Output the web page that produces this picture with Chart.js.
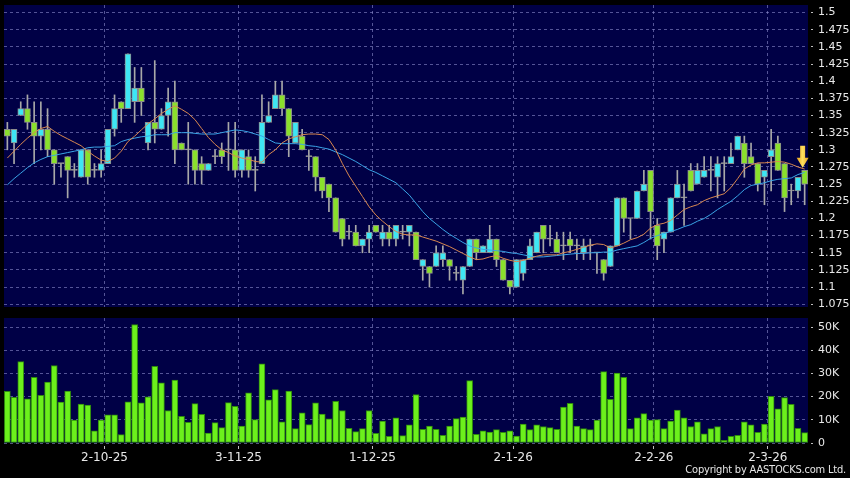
<!DOCTYPE html>
<html>
<head>
<meta charset="utf-8">
<script src="https://cdn.jsdelivr.net/npm/chart.js@4.4.0/dist/chart.umd.min.js"></script>
<style>
html, body { margin: 0; padding: 0; background: #000; }
#wrap { position: relative; width: 850px; height: 478px; overflow: hidden; background: #000; }
#priceBox { position: absolute; left: 0; top: 0; width: 850px; height: 307px; }
#volBox { position: absolute; left: 0; top: 318px; width: 850px; height: 160px; }
#copy { position: absolute; right: 4px; bottom: 2px; font: 11px "DejaVu Sans Condensed", "DejaVu Sans", sans-serif; letter-spacing: -0.2px; color: #e6e6e6; }
</style>
</head>
<body>
<div id="wrap">
  <div id="priceBox"><canvas id="priceChart"></canvas></div>
  <div id="volBox"><canvas id="volChart"></canvas></div>
  <div id="copy">Copyright by AASTOCKS.com Ltd.</div>
</div>
<script>
// daily candles
const opens = [
  1.33,1.31,1.35,1.36,1.34,1.32,1.33,1.30,1.28,1.29,
  1.27,1.26,1.30,1.27,1.27,1.28,1.33,1.37,1.36,1.37,
  1.39,1.31,1.34,1.33,1.35,1.37,1.31,1.30,1.30,1.28,
  1.27,1.29,1.30,1.30,1.30,1.27,1.29,1.27,1.28,1.34,
  1.36,1.38,1.36,1.31,1.32,1.29,1.29,1.26,1.25,1.23,
  1.20,1.18,1.18,1.16,1.17,1.19,1.17,1.18,1.17,1.18,
  1.18,1.18,1.13,1.13,1.13,1.14,1.14,1.12,1.11,1.13,
  1.17,1.15,1.15,1.17,1.14,1.11,1.10,1.12,1.14,1.15,
  1.19,1.17,1.17,1.16,1.17,1.16,1.15,1.16,1.15,1.14,
  1.13,1.16,1.23,1.20,1.20,1.24,1.27,1.19,1.17,1.18,
  1.23,1.23,1.27,1.25,1.26,1.27,1.26,1.28,1.28,1.30,
  1.31,1.29,1.28,1.26,1.29,1.31,1.28,1.24,1.24,1.27
];
const highs = [
  1.34,1.33,1.37,1.38,1.37,1.37,1.36,1.30,1.28,1.29,
  1.28,1.30,1.30,1.28,1.30,1.33,1.38,1.37,1.44,1.42,
  1.42,1.34,1.43,1.36,1.39,1.40,1.31,1.34,1.30,1.29,
  1.28,1.30,1.31,1.34,1.34,1.30,1.30,1.29,1.38,1.37,
  1.40,1.40,1.36,1.34,1.33,1.30,1.29,1.26,1.25,1.23,
  1.20,1.19,1.19,1.17,1.19,1.19,1.19,1.19,1.19,1.19,
  1.19,1.18,1.14,1.13,1.16,1.16,1.14,1.13,1.13,1.17,
  1.17,1.16,1.19,1.17,1.14,1.11,1.14,1.14,1.17,1.18,
  1.19,1.19,1.18,1.18,1.18,1.17,1.17,1.17,1.15,1.14,
  1.16,1.23,1.23,1.20,1.24,1.27,1.27,1.20,1.18,1.23,
  1.27,1.25,1.28,1.28,1.29,1.29,1.29,1.29,1.31,1.32,
  1.32,1.31,1.28,1.27,1.33,1.32,1.28,1.25,1.26,1.27
];
const lows = [
  1.30,1.28,1.35,1.33,1.28,1.30,1.29,1.25,1.26,1.23,
  1.26,1.26,1.25,1.26,1.26,1.28,1.32,1.34,1.36,1.34,
  1.35,1.30,1.31,1.33,1.32,1.28,1.30,1.25,1.25,1.25,
  1.27,1.28,1.28,1.27,1.26,1.26,1.26,1.24,1.28,1.34,
  1.36,1.35,1.29,1.31,1.30,1.27,1.24,1.23,1.21,1.18,
  1.16,1.17,1.16,1.15,1.15,1.18,1.16,1.16,1.16,1.17,
  1.16,1.14,1.11,1.10,1.13,1.13,1.11,1.11,1.09,1.13,
  1.14,1.15,1.15,1.13,1.11,1.09,1.10,1.11,1.14,1.15,
  1.15,1.16,1.15,1.14,1.15,1.14,1.14,1.14,1.12,1.11,
  1.13,1.16,1.18,1.17,1.20,1.24,1.17,1.14,1.15,1.18,
  1.23,1.19,1.24,1.25,1.26,1.24,1.23,1.24,1.28,1.30,
  1.26,1.28,1.24,1.22,1.24,1.27,1.21,1.22,1.23,1.22
];
const closes = [
  1.32,1.33,1.36,1.34,1.32,1.33,1.30,1.28,1.28,1.27,
  1.27,1.30,1.26,1.27,1.28,1.33,1.36,1.36,1.44,1.39,
  1.37,1.34,1.33,1.35,1.37,1.30,1.30,1.30,1.27,1.27,
  1.28,1.29,1.29,1.30,1.27,1.30,1.27,1.27,1.34,1.35,
  1.38,1.36,1.32,1.34,1.30,1.29,1.26,1.24,1.23,1.18,
  1.17,1.18,1.16,1.17,1.18,1.18,1.18,1.17,1.19,1.18,
  1.19,1.14,1.14,1.12,1.15,1.15,1.13,1.12,1.13,1.17,
  1.15,1.16,1.17,1.14,1.11,1.10,1.14,1.14,1.16,1.18,
  1.17,1.17,1.15,1.16,1.16,1.16,1.16,1.16,1.15,1.12,
  1.16,1.23,1.20,1.20,1.24,1.25,1.21,1.16,1.18,1.23,
  1.25,1.23,1.24,1.27,1.27,1.27,1.28,1.28,1.29,1.32,
  1.28,1.28,1.25,1.27,1.30,1.27,1.23,1.24,1.26,1.25
];
// moving averages (orange = short, blue = long)
const maShort = [
  1.288,1.298,1.308,1.317,1.325,1.331,1.334,1.327,1.321,1.316,
  1.311,1.306,1.298,1.291,1.285,1.283,1.288,1.298,1.312,1.320,
  1.329,1.338,1.345,1.353,1.359,1.364,1.359,1.353,1.344,1.331,
  1.318,1.308,1.300,1.296,1.291,1.288,1.286,1.283,1.282,1.293,
  1.300,1.310,1.316,1.319,1.322,1.323,1.323,1.322,1.315,1.300,
  1.280,1.262,1.247,1.232,1.217,1.205,1.196,1.188,1.181,1.177,
  1.176,1.176,1.173,1.170,1.167,1.163,1.159,1.154,1.149,1.144,
  1.140,1.141,1.144,1.146,1.142,1.139,1.137,1.139,1.142,1.145,
  1.147,1.147,1.147,1.150,1.152,1.155,1.158,1.161,1.163,1.162,
  1.157,1.160,1.164,1.169,1.172,1.177,1.186,1.191,1.193,1.197,
  1.205,1.213,1.217,1.220,1.226,1.230,1.233,1.236,1.245,1.258,
  1.272,1.278,1.281,1.281,1.282,1.283,1.282,1.279,1.275,1.272
];
const maLong = [
  1.249,1.258,1.266,1.274,1.281,1.286,1.290,1.292,1.294,1.296,
  1.298,1.300,1.303,1.304,1.304,1.305,1.306,1.312,1.315,1.317,
  1.319,1.320,1.322,1.322,1.322,1.325,1.325,1.325,1.324,1.323,
  1.323,1.323,1.325,1.327,1.329,1.328,1.326,1.323,1.320,1.315,
  1.310,1.309,1.309,1.309,1.308,1.306,1.305,1.303,1.301,1.297,
  1.293,1.288,1.283,1.277,1.271,1.267,1.262,1.257,1.252,1.243,
  1.234,1.222,1.210,1.200,1.192,1.184,1.177,1.171,1.165,1.160,
  1.157,1.155,1.154,1.153,1.152,1.150,1.149,1.147,1.145,1.144,
  1.144,1.145,1.146,1.147,1.148,1.149,1.149,1.150,1.150,1.151,
  1.151,1.154,1.156,1.158,1.160,1.165,1.171,1.175,1.178,1.181,
  1.184,1.188,1.191,1.196,1.200,1.206,1.213,1.219,1.225,1.233,
  1.242,1.248,1.250,1.252,1.255,1.257,1.258,1.259,1.264,1.267
];
const volumes = [
  22300,19700,35100,19000,28300,20600,26300,33400,17600,22400,
  9900,16800,16300,5200,9900,12200,12200,3600,17800,51100,
  17300,19900,33100,25900,14000,27100,11500,8900,17000,12400,
  4300,8800,6600,17400,15800,7300,21600,10100,34100,18600,
  23000,9100,22400,6200,13000,7900,17300,12500,10400,18000,
  14000,6300,4900,6200,14000,4200,9500,2900,10900,3200,
  7800,20900,5900,7300,5900,3300,7300,10500,11200,26900,
  3700,5200,4700,5800,4600,5200,3000,8200,5800,7800,
  7100,6600,5900,15500,17100,7300,6200,5800,9900,30800,
  18800,30100,28300,6200,10900,12700,9900,10100,6200,9400,
  14200,10800,7100,9100,4000,6200,7100,1200,2900,3300,
  9100,7800,4600,8200,20100,14700,19600,16700,6300,4500
];
const dateLabels = ['2-10-25', '3-11-25', '1-12-25', '2-1-26', '2-2-26', '2-3-26'];
const datePos = [14.5, 34.5, 54.5, 75.5, 96.5, 113.5];
const priceTicks = [1.075,1.1,1.125,1.15,1.175,1.2,1.225,1.25,1.275,1.3,1.325,1.35,1.375,1.4,1.425,1.45,1.475,1.5];
const volTicks = [0, 10000, 20000, 30000, 40000, 50000];
const arrowIdx = 118.7, arrowPrice = 1.274;

const NAVY = '#000046';
const GRID = 'rgba(140,140,205,0.6)';
const UP = '#3ee6f4';
const DOWN = '#8ae02c';
const EDGE = '#8c8c8c';
const WICK = '#a8a8a8';
const TXT = '#e8e8e8';

const idx = opens.map((_, i) => i);

const plotBg = {
  id: 'plotBg',
  beforeDraw(chart) {
    const { ctx, chartArea: a } = chart;
    ctx.save();
    ctx.fillStyle = NAVY;
    ctx.fillRect(a.left, a.top, a.right - a.left, a.bottom - a.top);
    ctx.restore();
  }
};

// the yellow marker arrow above the last candles
const arrowMark = {
  id: 'arrowMark',
  afterDatasetsDraw(chart) {
    const { ctx, scales } = chart;
    const x = scales.x.getPixelForValue(arrowIdx);
    const tip = scales.y.getPixelForValue(arrowPrice);
    const g = ctx.createLinearGradient(x - 6, 0, x + 6, 0);
    g.addColorStop(0, '#e8a018');
    g.addColorStop(0.5, '#ffe060');
    g.addColorStop(1, '#e8a018');
    ctx.save();
    ctx.fillStyle = g;
    ctx.beginPath();
    ctx.moveTo(x - 2.5, tip - 22);
    ctx.lineTo(x + 2.5, tip - 22);
    ctx.lineTo(x + 2.5, tip - 10);
    ctx.lineTo(x + 6, tip - 10);
    ctx.lineTo(x, tip);
    ctx.lineTo(x - 6, tip - 10);
    ctx.lineTo(x - 2.5, tip - 10);
    ctx.closePath();
    ctx.fill();
    ctx.restore();
  }
};

// no extra room for labels at the ends of the axes
const noPad = s => { s.paddingTop = 0; s.paddingBottom = 0; s.paddingLeft = 0; s.paddingRight = 0; };

const xBase = {
  type: 'linear',
  offset: false,
  min: -0.5,
  max: 119.5,
  afterBuildTicks: s => { s.ticks = datePos.map(v => ({ value: v })); },
  border: { display: false, dash: [3, 3] }
};

new Chart(document.getElementById('priceChart'), {
  type: 'bar',
  data: {
    datasets: [
      {
        type: 'line', order: 0,
        data: idx.map(i => ({ x: i, y: maShort[i] })),
        borderColor: '#d98850', borderWidth: 1, pointRadius: 0
      },
      {
        type: 'line', order: 0,
        data: idx.map(i => ({ x: i, y: maLong[i] })),
        borderColor: '#3aa4e6', borderWidth: 1, pointRadius: 0
      },
      {
        order: 1, grouped: false,
        data: idx.map(i => ({ x: i, y: [opens[i], closes[i]] })),
        backgroundColor: idx.map(i => closes[i] > opens[i] ? UP : (closes[i] < opens[i] ? DOWN : WICK)),
        borderColor: EDGE, borderWidth: 1, borderSkipped: false,
        barThickness: 6, minBarLength: 1
      },
      {
        order: 2, grouped: false,
        data: idx.map(i => ({ x: i, y: [lows[i], highs[i]] })),
        backgroundColor: WICK, barThickness: 1
      }
    ]
  },
  options: {
    responsive: true,
    maintainAspectRatio: false,
    animation: false,
    layout: { padding: { left: 4, top: 5, right: 0, bottom: 0 } },
    plugins: { legend: { display: false }, tooltip: { enabled: false } },
    scales: {
      x: {
        ...xBase,
        ticks: { display: false },
        grid: { color: GRID, drawTicks: false, offset: false },
        afterFit: s => { s.height = 0; noPad(s); }
      },
      y: {
        position: 'right',
        min: 1.071,
        max: 1.511,
        afterBuildTicks: s => { s.ticks = priceTicks.map(v => ({ value: v })); },
        ticks: {
          color: TXT, padding: 4,
          font: { family: 'DejaVu Sans', size: 11 },
          callback: v => String(+v.toFixed(3))
        },
        grid: { color: GRID, tickLength: 6, tickColor: '#bdbdbd', tickBorderDash: [0, 3, 2, 50] },
        border: { display: false, dash: [3, 3] },
        afterFit: s => { s.width = 42; noPad(s); }
      }
    }
  },
  plugins: [plotBg, arrowMark]
});

new Chart(document.getElementById('volChart'), {
  type: 'bar',
  data: {
    datasets: [{
      data: idx.map(i => ({ x: i, y: volumes[i] })),
      backgroundColor: '#6cf01c',
      borderColor: '#2f8a0e',
      borderWidth: 1,
      borderSkipped: false,
      barThickness: 6
    }]
  },
  options: {
    responsive: true,
    maintainAspectRatio: false,
    animation: false,
    layout: { padding: { left: 4, top: 0, right: 0, bottom: 0 } },
    plugins: { legend: { display: false }, tooltip: { enabled: false } },
    scales: {
      x: {
        ...xBase,
        ticks: {
          color: TXT, padding: 2, maxRotation: 0, autoSkip: false,
          font: { family: 'DejaVu Sans', size: 12 },
          callback: v => dateLabels[datePos.indexOf(v)]
        },
        grid: { color: GRID, tickLength: 6, tickColor: '#bdbdbd', tickBorderDash: [0, 3, 3, 50], offset: false },
        afterFit: s => { s.height = 35; noPad(s); }
      },
      y: {
        position: 'right',
        min: 0,
        max: 53900,
        afterBuildTicks: s => { s.ticks = volTicks.map(v => ({ value: v })); },
        ticks: {
          color: TXT, padding: 4,
          font: { family: 'DejaVu Sans', size: 11 },
          callback: v => v === 0 ? '0' : (v / 1000) + 'K'
        },
        grid: { color: GRID, tickLength: 6, tickColor: '#bdbdbd', tickBorderDash: [0, 3, 2, 50] },
        border: { display: false, dash: [3, 3] },
        afterFit: s => { s.width = 42; noPad(s); }
      }
    }
  },
  plugins: [plotBg]
});
</script>
</body>
</html>
